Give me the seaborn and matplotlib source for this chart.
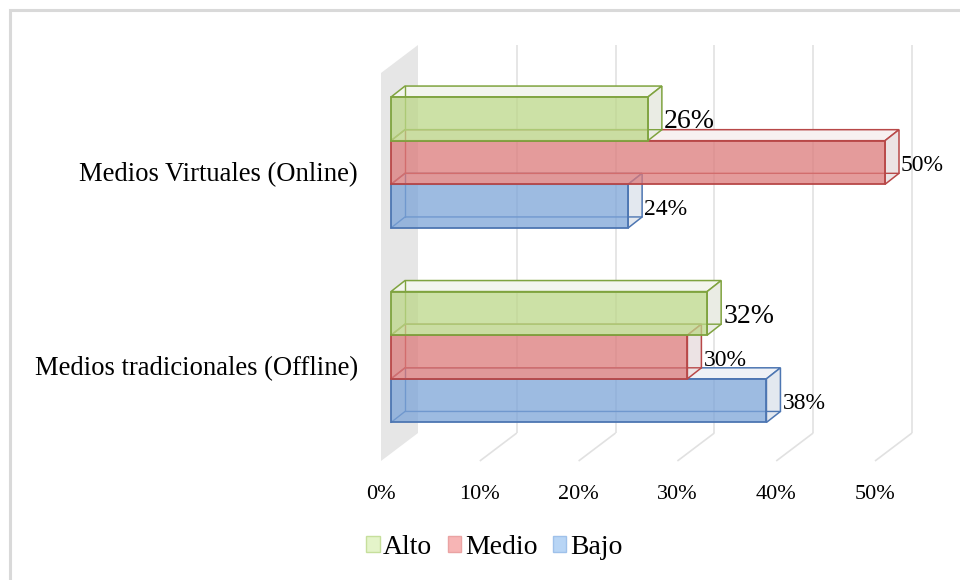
import matplotlib
matplotlib.use("Agg")
import matplotlib.pyplot as plt
from matplotlib.patches import Polygon, Patch, Rectangle
from matplotlib.transforms import ScaledTranslation
import seaborn as sns
import pandas as pd

# ---- data -------------------------------------------------------------
categories = ["Medios Virtuales (Online)", "Medios tradicionales (Offline)"]
levels = ["Alto", "Medio", "Bajo"]
alto = [26, 32]
medio = [50, 30]
bajo = [24, 38]
x_ticks = [0, 10, 20, 30, 40, 50]
x_tick_labels = ["0%", "10%", "20%", "30%", "40%", "50%"]

df = pd.DataFrame({
    "medio": categories * 3,
    "nivel": [lv for lv in levels for _ in categories],
    "valor": alto + medio + bajo,
})

# ---- styles -----------------------------------------------------------
front_colors = {"Alto": "#bcd788", "Medio": "#dc7a7a", "Bajo": "#7ca4d8"}
edge_colors = {"Alto": "#7fa33f", "Medio": "#b84848", "Bajo": "#4d76b2"}
top_colors = {"Alto": "#f3f5ee", "Medio": "#f7f0f0", "Bajo": "#eef1f6"}
side_colors = {"Alto": "#eaece4", "Medio": "#ece3e4", "Bajo": "#e3e8ef"}
legend_face = {"Alto": "#e4f4c9", "Medio": "#f7b5b5", "Bajo": "#b8d5f5"}
legend_edge = {"Alto": "#c6df9c", "Medio": "#eaa3a3", "Bajo": "#9fc1ea"}
label_sizes = {"Alto": 20, "Medio": 17, "Bajo": 17}

sns.set_theme(style="white")
plt.rcParams["font.family"] = ["Liberation Serif", "DejaVu Serif"]
plt.rcParams["text.color"] = "black"
plt.rcParams["xtick.color"] = "black"
plt.rcParams["ytick.color"] = "black"

W, H, DPI = 960, 580, 100
fig = plt.figure(figsize=(W / DPI, H / DPI), dpi=DPI)

# axes frame in pixels and the scale of the front plane
AX_L, AX_R, AX_T, AX_B = 370, 935, 30, 470
X0_PX, PX_PER_PCT = 391, 9.88
Y0_PX, PX_PER_CAT = 162.5, 194.5

ax = fig.add_axes([AX_L / W, 1 - AX_B / H, (AX_R - AX_L) / W, (AX_B - AX_T) / H])


def dx(p):
    return p / PX_PER_PCT


def dy(p):
    return p / PX_PER_CAT


def xd(px):
    return (px - X0_PX) / PX_PER_PCT


def yd(py):
    return (py - Y0_PX) / PX_PER_CAT


sns.barplot(data=df, y="medio", x="valor", hue="nivel", hue_order=levels,
            order=categories, palette=front_colors, width=0.673,
            saturation=1, legend=False, orient="h", ax=ax)

ax.set_xlim(xd(AX_L), xd(AX_R))
ax.set_ylim(yd(AX_B), yd(AX_T))
for s in ax.spines.values():
    s.set_visible(False)
ax.set_xlabel("")
ax.set_ylabel("")

# ---- 3D frame: side wall and back-wall gridlines ----------------------
WALL_DEPTH = (37, -28)          # floor front -> back wall, pixels
BACK_X, BACK_TOP, BACK_BOT = 418, 45, 433
ax.add_patch(Polygon([(xd(BACK_X - WALL_DEPTH[0]), yd(BACK_TOP - WALL_DEPTH[1])),
                      (xd(BACK_X), yd(BACK_TOP)),
                      (xd(BACK_X), yd(BACK_BOT)),
                      (xd(BACK_X - WALL_DEPTH[0]), yd(BACK_BOT - WALL_DEPTH[1]))],
                     closed=True, facecolor="#e6e6e6", edgecolor="none", zorder=0.5))
grid_kw = dict(color="#e1e1e1", lw=1.2, zorder=0.6, solid_capstyle="butt")
for v in x_ticks[1:]:
    bx = v + dx(BACK_X - X0_PX)
    ax.plot([bx, bx], [yd(BACK_TOP), yd(BACK_BOT)], **grid_kw)
    ax.plot([bx, bx - dx(WALL_DEPTH[0])], [yd(BACK_BOT), yd(BACK_BOT - WALL_DEPTH[1])], **grid_kw)

# ---- 3D bars built on the seaborn bars --------------------------------
BAR_DEPTH = (14, -11)
ddx, ddy = dx(BAR_DEPTH[0]), dy(BAR_DEPTH[1])
for i, (lv, cont) in enumerate(zip(levels, ax.containers)):
    z = 10 - 3 * i
    ec = edge_colors[lv]
    for bar, val in zip(cont.patches, cont.datavalues):
        x0, w = bar.get_x(), bar.get_width()
        y0, h = bar.get_y(), bar.get_height()
        x1 = x0 + w
        ytop, ybot = y0, y0 + h
        ax.add_patch(Polygon([(x0, ytop), (x1, ytop), (x1 + ddx, ytop + ddy), (x0 + ddx, ytop + ddy)],
                             closed=True, facecolor=top_colors[lv], edgecolor=ec, lw=1.1, zorder=z - 1))
        ax.add_patch(Polygon([(x1, ytop), (x1 + ddx, ytop + ddy), (x1 + ddx, ybot + ddy), (x1, ybot)],
                             closed=True, facecolor=side_colors[lv], edgecolor=ec, lw=1.1, zorder=z - 1))
        ax.plot([x0, x0 + ddx, x1 + ddx], [ybot, ybot + ddy, ybot + ddy], color=ec, lw=1.0, zorder=z - 0.5)
        ax.plot([x0 + ddx, x0 + ddx], [ytop + ddy, ybot + ddy], color=ec, lw=1.0, zorder=z - 0.5)
        bar.set_facecolor(matplotlib.colors.to_rgba(front_colors[lv], 0.75))
        bar.set_edgecolor(ec)
        bar.set_linewidth(1.3)
        bar.set_zorder(z)
        ax.text(x1 + ddx + dx(2), (ytop + ybot) / 2 + dy(3), f"{val:.0f}%", ha="left", va="center",
                fontsize=label_sizes[lv], color="black", zorder=20)

# ---- axis labels ------------------------------------------------------
ax.set_xticks(x_ticks, x_tick_labels)
ax.tick_params(axis="x", length=0, pad=11, labelsize=16)
ax.tick_params(axis="y", length=0, pad=8.6, labelsize=19.2)
for lbl in ax.get_xticklabels():
    lbl.set_transform(lbl.get_transform() + ScaledTranslation(-10 / DPI, 0, fig.dpi_scale_trans))
for lbl in ax.get_yticklabels():
    lbl.set_transform(lbl.get_transform() + ScaledTranslation(0, -9 / DPI, fig.dpi_scale_trans))

# ---- legend -----------------------------------------------------------
handles = [Patch(facecolor=legend_face[lv], edgecolor=legend_edge[lv], lw=1.0, label=lv) for lv in levels]
fig.legend(handles=handles, loc="center", bbox_to_anchor=(494 / W, 1 - 547 / H), ncol=3,
           frameon=False, fontsize=20, handlelength=0.5, handleheight=0.5,
           handletextpad=0.12, columnspacing=0.55, borderpad=0)

# ---- outer frame ------------------------------------------------------
fig.add_artist(Rectangle((10 / W, -0.1), 1.2, 1.1 - 10 / H, transform=fig.transFigure,
                         fill=False, edgecolor="#d9d9d9", lw=2.2))

fig.savefig("out.png", dpi=DPI)
